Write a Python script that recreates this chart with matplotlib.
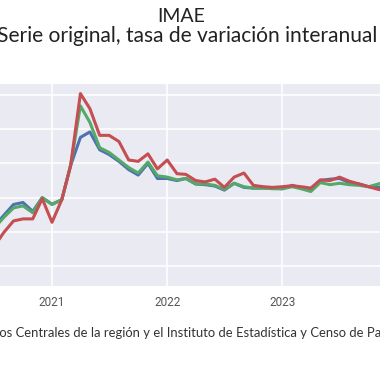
import matplotlib
matplotlib.use("Agg")
import matplotlib.pyplot as plt
import matplotlib.dates as mdates
from matplotlib import font_manager
import pandas as pd
import seaborn as sns

# IMAE, tasa de variación interanual (%), jul-2020 a dic-2023
months = pd.date_range("2020-07-01", "2023-12-01", freq="MS")
serie_azul = [-4.2, -2.6, -1.0, -0.7, -2.0, 0.0, -0.95, -0.3, 4.7, 8.8, 9.6, 7.0,
              6.3, 5.3, 4.1, 3.3, 5.0, 2.8, 2.8, 2.5, 2.8, 2.0, 1.9, 1.7,
              1.1, 2.1, 1.5, 1.4, 1.4, 1.4, 1.3, 1.8, 1.4, 1.3, 2.5, 2.7,
              2.8, 2.2, 2.0, 1.6, 1.5, 1.8]
serie_verde = [-4.5, -2.9, -1.5, -1.2, -2.2, 0.0, -1.0, -0.3, 4.7, 13.4, 11.0, 7.3,
               6.6, 5.5, 4.4, 3.6, 5.2, 3.2, 3.0, 2.6, 2.8, 2.0, 2.0, 1.8,
               1.2, 2.1, 1.6, 1.4, 1.4, 1.3, 1.3, 1.6, 1.3, 0.9, 2.2, 1.9,
               2.1, 1.9, 1.8, 1.6, 2.0, 2.4]
serie_roja = [-7.2, -5.1, -3.4, -3.1, -3.1, -0.15, -3.6, -0.3, 4.7, 15.2, 13.0, 9.1,
              9.1, 8.2, 5.5, 5.3, 6.4, 4.2, 5.5, 3.5, 3.4, 2.5, 2.3, 2.7,
              1.5, 3.0, 3.6, 1.8, 1.6, 1.5, 1.6, 1.75, 1.6, 1.4, 2.6, 2.5,
              3.0, 2.4, 2.0, 1.6, 1.2, 1.0]
y_ticks = [-10, -5, 0, 5, 10, 15]

sns.set_style("darkgrid")
txt_font = "Lato"
try:
    font_manager.findfont("Liberation Sans Narrow", fallback_to_default=False)
    tick_font = "Liberation Sans Narrow"
except ValueError:
    tick_font = "Roboto"

W = H = 380
fig = plt.figure(figsize=(W / 100, H / 100), dpi=100)
renderer = fig.canvas.get_renderer()


def text_width(s, size):
    t = fig.text(0, 0, s, fontsize=size, family=txt_font)
    w = t.get_window_extent(renderer=renderer).width
    t.remove()
    return w


# the chart is a crop of a wider figure: the axes run past both edges
ax = fig.add_axes([-60 / W, (H - 286) / H, 500 / W, 202 / H])
ax.set_facecolor("#EAEAF2")

ax.plot(months, serie_azul, color="#4C72B0", lw=2.2)
ax.plot(months, serie_verde, color="#55A868", lw=2.2)
ax.plot(months, serie_roja, color="#C44E52", lw=2.2)

px_per_day = 115.3 / 365.25
x2021 = mdates.date2num(pd.Timestamp("2021-01-01"))
ax.set_xlim(x2021 - 112 / px_per_day, x2021 + 388 / px_per_day)
ax.set_ylim(-12.9, 16.6)
ax.set_yticks(y_ticks)
ax.xaxis.set_major_locator(mdates.YearLocator())
ax.xaxis.set_major_formatter(mdates.DateFormatter("%Y"))
ax.tick_params(axis="y", labelleft=False, length=0)
ax.tick_params(axis="x", length=0, pad=7, labelsize=8.5, labelcolor="#555555")
for lab in ax.get_xticklabels():
    lab.set_family(tick_font)
ax.grid(color="white", lw=1.1)
for s in ax.spines.values():
    s.set_visible(False)

# titles
fig.text(181 / W, 1 - 17 / H, "IMAE", ha="center", va="center",
         fontsize=14, family=txt_font, color="#222222")

sub_size = 10 * 370 / text_width("erie original, tasa de variación interanual", 10)
fig.text(377 / W, 1 - 36 / H, "Serie original, tasa de variación interanual",
         ha="right", va="center", fontsize=sub_size, family=txt_font, color="#222222")

foot = "Fuente: Bancos Centrales de la región y el Instituto de Estadística y Censo de Panamá."
foot_size = 10 * 382 / text_width("os Centrales de la región y el Instituto de Estadística y Censo de Pa", 10)
pre = text_width("Fuente: Banc", foot_size)
fig.text((-1 - pre) / W, 1 - 333 / H, foot, ha="left", va="center",
         fontsize=foot_size, family=txt_font, color="#333333")

fig.savefig("out.png", dpi=100)
